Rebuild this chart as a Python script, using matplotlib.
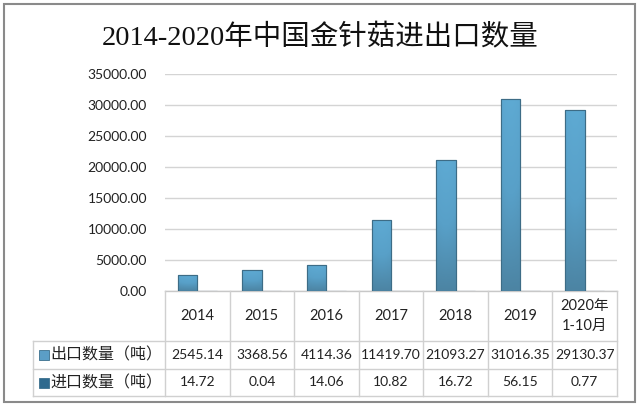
import numpy as np
import matplotlib
matplotlib.use("Agg")
import matplotlib.pyplot as plt
from matplotlib.transforms import blended_transform_factory
from matplotlib.patches import Rectangle
from matplotlib.colors import LinearSegmentedColormap

plt.rcParams['font.family'] = ['Lato', 'Noto Sans CJK SC', 'DejaVu Sans']

title = "2014-2020年中国金针菇进出口数量"
categories = ["2014", "2015", "2016", "2017", "2018", "2019", "2020年\n1-10月"]
series_names = ["出口数量（吨）", "进口数量（吨）"]
export_vals = [2545.14, 3368.56, 4114.36, 11419.70, 21093.27, 31016.35, 29130.37]
import_vals = [14.72, 0.04, 14.06, 10.82, 16.72, 56.15, 0.77]
export_labels = ["2545.14", "3368.56", "4114.36", "11419.70", "21093.27", "31016.35", "29130.37"]
import_labels = ["14.72", "0.04", "14.06", "10.82", "16.72", "56.15", "0.77"]
yticks = [0, 5000, 10000, 15000, 20000, 25000, 30000, 35000]

W, H = 640, 407
fig = plt.figure(figsize=(W / 100, H / 100), dpi=100)
fig.patch.set_facecolor("white")

def fy(py):
    return 1 - py / H

def fx(px):
    return px / W

ax_l, ax_r, ax_t, ax_b = 165, 617, 74, 291
ax = fig.add_axes([fx(ax_l), fy(ax_b), fx(ax_r) - fx(ax_l), fy(ax_t) - fy(ax_b)])
ax.set_facecolor("white")

n = len(categories)
x = np.arange(n)
bw = 0.30
exp_color = "#5b9ec6"
imp_color = "#2f6a8e"
bars_e = ax.bar(x - bw / 2, export_vals, bw, color=exp_color, edgecolor="#3b6f8d", linewidth=0.8, zorder=3)
bars_i = ax.bar(x + bw / 2, import_vals, bw, color=imp_color, edgecolor="#24546f", linewidth=0.8, zorder=3)

# gradient fill for export bars
cmap = LinearSegmentedColormap.from_list("g", ["#4c84a3", "#58a0c8", "#5eaad3"])
grad = np.linspace(0, 1, 256).reshape(-1, 1)
hgrad = 1 - 0.2 * np.abs(np.linspace(-1, 1, 32)) ** 2
for b in bars_e:
    x0, y0 = b.get_x(), b.get_y()
    w, h = b.get_width(), b.get_height()
    img = grad * hgrad.reshape(1, -1)
    im = ax.imshow(img, extent=[x0, x0 + w, y0, y0 + h], origin="lower", aspect="auto",
                   cmap=cmap, vmin=0, vmax=1, zorder=3.5)
    im.set_clip_path(b)
    ax.add_patch(Rectangle((x0, y0), w, h, fill=False, edgecolor="#3d6c86", linewidth=0.8, zorder=4))

ax.set_xlim(-0.5, n - 0.5)
ax.set_ylim(0, 35000)
ax.set_yticks(yticks)
ax.set_yticklabels([f"{v:.2f}" for v in yticks], fontsize=10, color="#222222")
ax.tick_params(axis="y", length=0, pad=13)
ax.set_xticks([])
for s in ["top", "right", "left"]:
    ax.spines[s].set_visible(False)
ax.spines["bottom"].set_color("#c8c8c8")
ax.spines["bottom"].set_linewidth(1.0)
ax.grid(axis="y", color="#d4d4d4", linewidth=1.0, zorder=0)
ax.set_axisbelow(True)

# title
fig.text(0.5, fy(38), title, ha="center", va="center", fontsize=20.5,
         family=["Liberation Serif", "Noto Sans CJK SC"], color="#111111")

# table
tr = blended_transform_factory(ax.transData, fig.transFigure)
line_c = "#d0d0d0"
row_top, row1, row2, row_bot = 291, 341, 369, 396
label_left = 33
for i in range(n + 1):
    xe = i - 0.5
    fig.add_artist(plt.Line2D([xe, xe], [fy(row_top), fy(row_bot)], transform=tr, color=line_c, lw=1.0))
for py in [row1, row2, row_bot]:
    fig.add_artist(plt.Line2D([fx(label_left), fx(ax_r)], [fy(py), fy(py)], transform=fig.transFigure, color=line_c, lw=1.0))
fig.add_artist(plt.Line2D([fx(label_left), fx(label_left)], [fy(row1), fy(row_bot)], transform=fig.transFigure, color=line_c, lw=1.0))

for i, c in enumerate(categories):
    fig.text(i, fy((row_top + row1) / 2), c, transform=tr, ha="center", va="center",
             fontsize=10.5, color="#222222", linespacing=1.5)
    fig.text(i, fy((row1 + row2) / 2), export_labels[i], transform=tr, ha="center", va="center",
             fontsize=10, color="#222222")
    fig.text(i, fy((row2 + row_bot) / 2), import_labels[i], transform=tr, ha="center", va="center",
             fontsize=10, color="#222222")

for (name, col, r0, r1) in [(series_names[0], exp_color, row1, row2), (series_names[1], imp_color, row2, row_bot)]:
    cy = (r0 + r1) / 2
    fig.add_artist(Rectangle((fx(39), fy(cy + 5)), fx(10) - fx(0), fy(cy - 5) - fy(cy + 5),
                             transform=fig.transFigure, facecolor=col, edgecolor="#3b6f8d", lw=0.6))
    fig.text(fx(50), fy(cy), name, ha="left", va="center", fontsize=11.5, color="#222222",
             family=["Noto Sans CJK SC", "DejaVu Sans"])

# outer border
fig.add_artist(Rectangle((fx(4), fy(402)), fx(631) - fx(0), fy(4) - fy(402), transform=fig.transFigure,
                         fill=False, edgecolor="#8a8a8a", lw=1.5))

fig.savefig("out.png", dpi=100, facecolor="white")
